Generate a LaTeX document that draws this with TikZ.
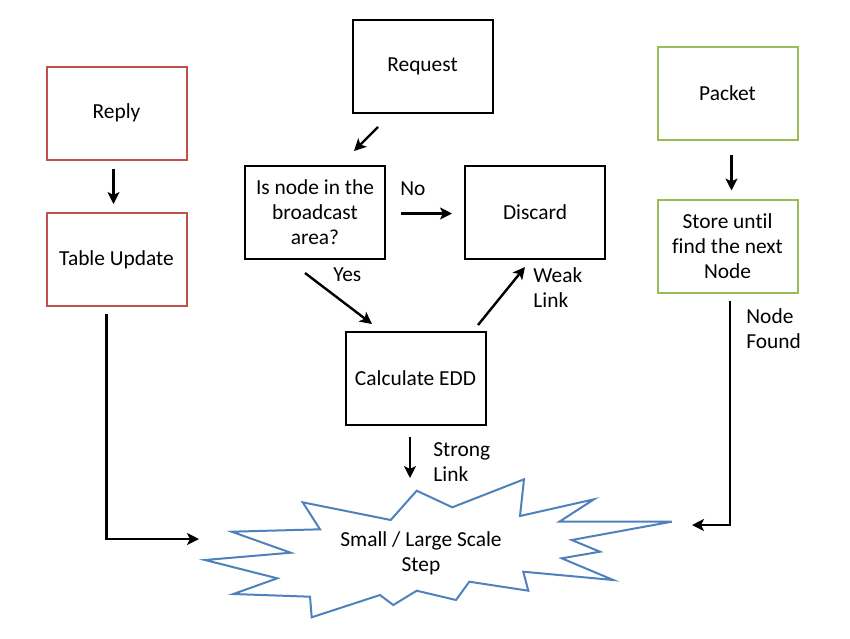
\documentclass[tikz,border=0pt]{standalone}
\usepackage{fontspec}
\setmainfont{Carlito}[Ligatures=NoCommon]
\usetikzlibrary{arrows.meta}

\definecolor{replyred}{RGB}{192,80,77}
\definecolor{packetgreen}{RGB}{155,187,89}
\definecolor{starblue}{RGB}{79,129,189}

\begin{document}
\begin{tikzpicture}[x=0.5pt, y=-0.5pt,
	every node/.style={font=\fontsize{10.7pt}{12.5pt}\selectfont},
	box/.style={draw, line width=1pt, minimum width=70pt, minimum height=46.5pt, align=center},
	arr/.style={-{Stealth[length=6pt, width=6pt, inset=1.5pt]}, line width=1.2pt},
	lbl/.style={align=left, anchor=west, inner sep=0pt}]
	\useasboundingbox (0, 0) rectangle (850, 638);

	\node[box, draw=replyred] (reply) at (116.5, 113) {Reply};
	\node[box, draw=replyred] (tableupdate) at (116.5, 259.5) {Table Update};
	\node[box] (request) at (422.5, 66.5) {Request};
	\node[box] (isnode) at (315, 212.5) {Is node in the\\broadcast\\area?};
	\node[box] (discard) at (535, 212.5) {Discard};
	\node[box] (calcedd) at (415.5, 378.5) {Calculate EDD};
	\node[box, draw=packetgreen] (packet) at (727.5, 93) {Packet};
	\node[box, draw=packetgreen] (store) at (727.5, 246) {Store until\\find the next\\Node};

	% starburst
	\draw[starblue, line width=1pt, line join=miter, fill=white]
		(416.7, 490.7) -- (452.3, 507.3) -- (524, 479.3) -- (520, 516) -- (594, 499.3)
		-- (559.3, 521.7) -- (671.7, 521.7) -- (571.7, 540) -- (600, 551.7) -- (561.7, 558.3)
		-- (613.3, 580) -- (523.3, 571.7) -- (528.3, 590.7) -- (469.3, 581.7) -- (456, 600)
		-- (416.7, 590.7) -- (393.3, 605) -- (380, 595) -- (311.7, 617.3) -- (310, 596.7)
		-- (233.3, 594) -- (277.3, 578.3) -- (205, 560) -- (290.7, 552.7) -- (231.7, 531.7)
		-- (320, 529.3) -- (302.7, 502.3) -- (390.7, 520) -- cycle;
	\node[align=center] (step) at (421, 553) {Small / Large Scale\\Step};

	% free ends
	\coordinate (reqout) at (378, 127);
	\coordinate (isin) at (354, 151);
	\coordinate (yesout) at (305, 273);
	\coordinate (yesin) at (372, 324);
	\coordinate (weakout) at (478, 325);
	\coordinate (weakin) at (525, 267);
	\coordinate (strongout) at (410, 437);
	\coordinate (strongin) at (410, 478);
	\coordinate (leftin) at (199, 539);
	\coordinate (rightin) at (692, 525);

	\draw[arr] (reply.south) ++(-3, 8) -- ([xshift=-1.5pt, yshift=4pt]tableupdate.north);
	\draw[arr] (reqout) -- (isin);
	\draw[arr] (isnode.east) ++(15, 1) -- ([xshift=-6pt, yshift=-0.5pt]discard.west);
	\draw[arr] (yesout) -- (yesin);
	\draw[arr] (weakout) -- (weakin);
	\draw[arr] (strongout) -- (strongin);
	\draw[arr] (packet.south) ++(4, 14) -- ([xshift=2pt, yshift=4pt]store.north);
	\draw[arr] ([xshift=-5pt, yshift=-3.5pt]tableupdate.south) |- (leftin);
	\draw[arr] ([xshift=1.25pt, yshift=-3.5pt]store.south) |- (rightin);

	\node[lbl] (nolbl) at (400, 189) {No};
	\node[lbl] (yeslbl) at (333, 275) {Yes};
	\node[lbl] (weaklbl) at (533, 288) {Weak\\Link};
	\node[lbl] (stronglbl) at (433, 462) {Strong\\Link};
	\node[lbl] (foundlbl) at (746, 329) {Node\\Found};
\end{tikzpicture}
\end{document}
